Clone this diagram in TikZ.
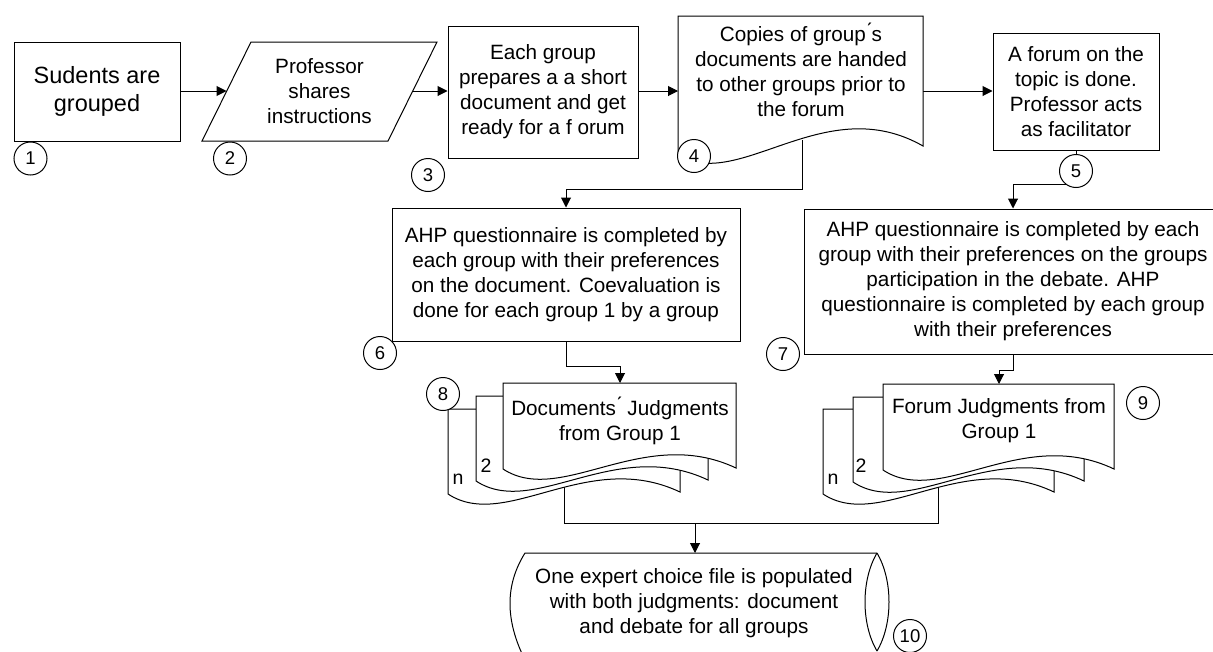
\documentclass[tikz,border=0pt]{standalone}
\usepackage{fontspec}
\setmainfont{Liberation Sans}
\usetikzlibrary{arrows.meta,calc,backgrounds}
\newcommand\txtf{\fontsize{20.7}{25}\selectfont}
\newcommand\bigtxtf{\fontsize{23.5}{28.5}\selectfont}
\newcommand\numf{\fontsize{18.5}{21}\selectfont}
% x, y, w, hL, hR, p, q
\newcommand\docshape[7]{%
  \draw[shp] (#1,#2+#4) -- (#1,#2) -- (#1+#3,#2) -- (#1+#3,#2+#5)
    .. controls (#1+0.6*#3,#2+#5-#6) and (#1+0.25*#3,#2+#4+#7) .. (#1,#2+#4) -- cycle;}
\tikzset{
  shp/.style={draw, fill=white, line width=1pt},
  box/.style={shp, align=center, inner sep=0pt, font=\txtf},
  txt/.style={align=center, inner sep=0pt, font=\txtf},
  num/.style={shp, circle, minimum size=33pt, inner sep=0pt, font=\numf},
  lbl/.style={inner sep=0pt, font=\fontsize{19.5}{22}\selectfont},
  arr/.style={line width=1pt, -{Triangle[length=10pt,width=10pt]}},
  ln/.style={line width=1pt},
}
\begin{document}
\begin{tikzpicture}[x=1pt,y=-1pt]
\useasboundingbox (0,0) rectangle (1213,651);
\clip (0,0) rectangle (1213,651);

% ---- step 1
\node[box, minimum width=166pt, minimum height=99pt, font=\bigtxtf] (b1) at (97,91.5) {Sudents are\\grouped};
% ---- step 2 (parallelogram)
\draw[shp] (251,42) -- (437,42) -- (388,141) -- (202,141) -- cycle;
\node[txt] (b2) at (319.5,91) {Professor\\shares\\instructions};
\coordinate (p2in) at (226.5,91);
\coordinate (p2out) at (412.5,91);
% ---- step 3
\node[box, minimum width=190pt, minimum height=132pt] (b3) at (543,92) {Each group\\prepares a a short\\document and get\\ready for a f orum};
% ---- step 4 (document)
\docshape{678}{16}{245}{139}{130}{56}{37}
\node[txt] (b4) at (801,70) {Copies of group\'{}s\\documents are handed\\to other groups prior to\\the forum};
\coordinate (d4in) at (678,91);
\coordinate (d4outr) at (923,91);
\coordinate (d4out) at (802,140);
% ---- step 5
\node[box, minimum width=166pt, minimum height=117pt] (b5) at (1076,91.5) {A forum on the\\topic is done.\\Professor acts\\as facilitator};
% ---- step 6
\node[box, minimum width=348pt, minimum height=133pt] (b6) at (566,274.5) {AHP questionnaire is completed by\\each group with their preferences\\on the document. Coevaluation is\\done for each group 1 by a group};
% ---- step 7
\node[box, minimum width=418pt, minimum height=145pt] (b7) at (1013,281.5) {AHP questionnaire is completed by each\\group with their preferences on the groups\\participation in the debate. AHP\\questionnaire is completed by each group\\with their preferences};

% ---- step 8 (multi-document)
\docshape{448}{409}{232}{85}{83}{44}{38}
\docshape{476}{396}{232}{85}{84}{44}{38}
\docshape{503}{383}{233}{86}{85}{44}{38}
\node[txt] (b8) at (620,421) {Documents\'{} Judgments\\from Group 1};
\node[lbl] (l82) at (486,466) {2};
\node[lbl] (l8n) at (458,479) {n};
\coordinate (d8in) at (620,383);
\coordinate (d8out) at (564,480);

% ---- step 9 (multi-document)
\docshape{823}{409}{231}{85}{83}{44}{38}
\docshape{853}{397}{231}{85}{84}{44}{38}
\docshape{883}{384}{231}{86}{85}{44}{38}
\node[txt] (b9) at (999,421) {Forum Judgments from\\Group 1};
\node[lbl] (l92) at (861,466) {2};
\node[lbl] (l9n) at (833,479) {n};
\coordinate (d9in) at (999,384);
\coordinate (d9out) at (938,480);

% ---- step 10 (stored data)
\draw[ln] (525,660) .. controls (505,620) and (505,585) .. (525,553) -- (877,553);
\draw[ln] (877,553) .. controls (861,580) and (861,624) .. (877,651);
\draw[ln] (877,553) .. controls (893,580) and (893,624) .. (877,651);
\node[txt] (b10) at (694,603) {One expert choice file is populated\\with both judgments: document\\and debate for all groups};
\coordinate (b10in) at (695,553);
\coordinate (m10) at (695,523);

% ---- numbers
\node[num] (c1) at (30.5,158.5) {1};
\node[num] (c2) at (230,158.5) {2};
\node[num] (c3) at (428,175) {3};
\node[num] (c4) at (694,156) {4};
\node[num] (c5) at (1076,171) {5};
\node[num] (c6) at (380,353) {6};
\node[num] (c7) at (783,354) {7};
\node[num] (c8) at (443,394) {8};
\node[num] (c9) at (1143,403) {9};
\node[num] (c10) at (910,636) {10};

% ---- connectors
\begin{pgfonlayer}{background}
\draw[arr] (b1.east |- p2in) -- (p2in);
\draw[arr] (p2out) -- (b3.west |- p2out);
\draw[arr] (b3.east |- d4in) -- (d4in);
\draw[arr] (d4outr) -- (b5.west |- d4outr);
\draw[ln] (b5.south) -- (c5.north);
\draw[arr] (c5.235) -| (b7.north);
\draw[arr] (d4out) |- ($(b6.north)+(0,-18)$) -- (b6.north);
\draw[arr] (b6.south) |- ($(d8in)+(0,-17)$) -- (d8in);
\draw[arr] (b7.south) |- ($(d9in)+(0,-14)$) -- (d9in);
\draw[ln] (d8out) |- (m10);
\draw[ln] (d9out) |- (m10);
\draw[arr] (m10) -- (b10in);
\end{pgfonlayer}
\end{tikzpicture}
\end{document}
